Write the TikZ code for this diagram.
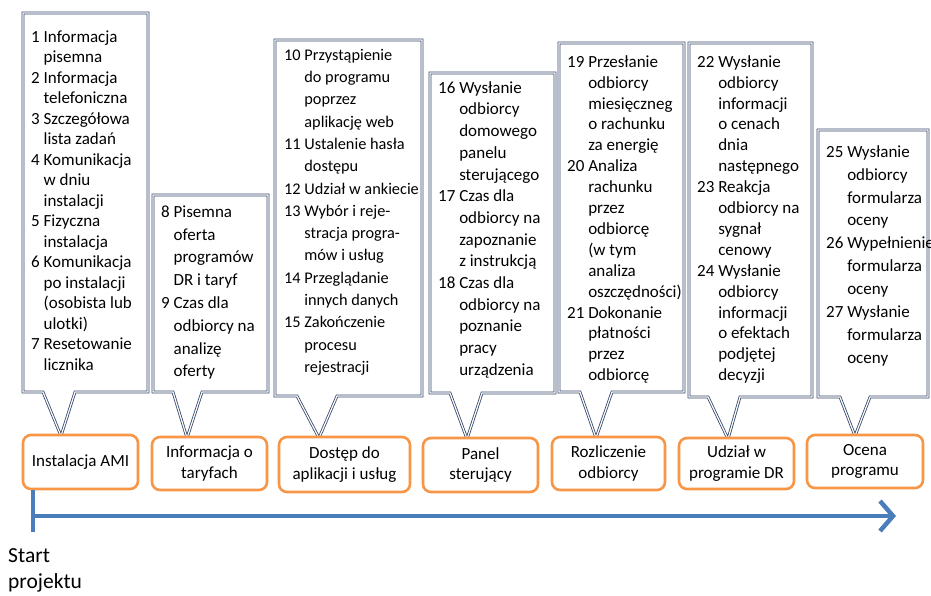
\documentclass[tikz,border=0pt]{standalone}
\usepackage{fontspec}
\setmainfont{Carlito}
\usetikzlibrary{arrows.meta}

\definecolor{boxorange}{HTML}{F79646}
\definecolor{axisblue}{HTML}{4A7EBB}
\definecolor{callline}{HTML}{34476A}

% hanging indent as wide as the item number
\newcommand\indnum[1]{\hphantom{#1\ }}
% callout: left, top, right, bottom, pointer base left, pointer base right, apex x, apex y
\newcommand\calloutbox[8]{%
  \draw[callshape] (#1,#2) -- (#3,#2) -- (#3,#4) -- (#6,#4) -- (#7,#8)
    -- (#5,#4) -- (#1,#4) -- cycle;}

\tikzset{
  phase/.style={draw=boxorange, line width=2.6pt, rounded corners=8pt,
    fill=white, align=center, inner sep=1pt,
    font=\fontsize{17}{20.5}\selectfont},
  callshape/.style={draw=callline, line width=0.8pt, double=white,
    double distance=1.2pt, fill=white, line join=miter},
  calltext/.style={anchor=north west, align=left, inner sep=0pt},
  axis/.style={draw=axisblue, line width=4.5pt},
}

\begin{document}
\begin{tikzpicture}[x=1pt,y=-1pt]
\useasboundingbox (0,0) rectangle (931,595);

% callouts with their item lists
\calloutbox{23}{13}{148}{392}{43}{75}{61}{436}
\calloutbox{153}{195}{268}{392}{173}{202}{187}{438}
\calloutbox{275}{40}{422}{396}{297}{337}{319}{438}
\calloutbox{430}{73}{555}{393}{450}{482}{467}{439}
\calloutbox{559}{43}{684}{392}{580}{612}{596}{438}
\calloutbox{689}{43}{812}{397}{708}{740}{728}{439}
\calloutbox{818}{130}{928}{397}{840}{870}{855}{436}

\node[calltext, font=\fontsize{17}{20.5}\selectfont] (c1) at (31,28)
 {\rule{0pt}{14pt}1 Informacja\\ \indnum{1}pisemna\\ 2 Informacja\\
  \indnum{2}telefoniczna\\ 3 Szczegółowa\\ \indnum{3}lista zadań\\
  4 Komunikacja\\ \indnum{4}w dniu\\ \indnum{4}instalacji\\ 5 Fizyczna\\
  \indnum{5}instalacja\\ 6 Komunikacja\\ \indnum{6}po instalacji\\
  \indnum{6}(osobista lub\\ \indnum{6}ulotki)\\ 7 Resetowanie\\
  \indnum{7}licznika};

\node[calltext, font=\fontsize{17}{22.8}\selectfont] (c2) at (161,203)
 {\rule{0pt}{14pt}8 Pisemna\\ \indnum{8}oferta\\ \indnum{8}programów\\
  \indnum{8}DR i taryf\\ 9 Czas dla\\ \indnum{9}odbiorcy na\\
  \indnum{9}analizę\\ \indnum{9}oferty};

\node[calltext, font=\fontsize{16.3}{22.3}\selectfont] (c3) at (284,46)
 {\rule{0pt}{14pt}10 Przystąpienie\\ \indnum{10}do programu\\ \indnum{10}poprzez\\
  \indnum{10}aplikację web\\ 11 Ustalenie hasła\\ \indnum{11}dostępu\\
  12 Udział w ankiecie\\ 13 Wybór i reje-\\ \indnum{13}stracja progra-\\
  \indnum{13}mów i usług\\ 14 Przeglądanie\\ \indnum{14}innych danych\\
  15 Zakończenie\\ \indnum{15}procesu\\ \indnum{15}rejestracji};

\node[calltext, font=\fontsize{17}{21.7}\selectfont] (c4) at (438,79)
 {\rule{0pt}{14pt}16 Wysłanie\\ \indnum{16}odbiorcy\\ \indnum{16}domowego\\
  \indnum{16}panelu\\ \indnum{16}sterującego\\ 17 Czas dla\\
  \indnum{17}odbiorcy na\\ \indnum{17}zapoznanie\\ \indnum{17}z instrukcją\\
  18 Czas dla\\ \indnum{18}odbiorcy na\\ \indnum{18}poznanie\\
  \indnum{18}pracy\\ \indnum{18}urządzenia};

\node[calltext, font=\fontsize{17}{20.9}\selectfont] (c5) at (567,53)
 {\rule{0pt}{14pt}19 Przesłanie\\ \indnum{19}odbiorcy\\ \indnum{19}miesięczneg\\
  \indnum{19}o rachunku\\ \indnum{19}za energię\\ 20 Analiza\\
  \indnum{20}rachunku\\ \indnum{20}przez\\ \indnum{20}odbiorcę\\
  \indnum{20}(w tym\\ \indnum{20}analiza\\ \indnum{20}oszczędności)\\
  21 Dokonanie\\ \indnum{21}płatności\\ \indnum{21}przez\\ \indnum{21}odbiorcę};

\node[calltext, font=\fontsize{17}{20.9}\selectfont] (c6) at (697,53)
 {\rule{0pt}{14pt}22 Wysłanie\\ \indnum{22}odbiorcy\\ \indnum{22}informacji\\
  \indnum{22}o cenach\\ \indnum{22}dnia\\ \indnum{22}następnego\\
  23 Reakcja\\ \indnum{23}odbiorcy na\\ \indnum{23}sygnał\\
  \indnum{23}cenowy\\ 24 Wysłanie\\ \indnum{24}odbiorcy\\
  \indnum{24}informacji\\ \indnum{24}o efektach\\ \indnum{24}podjętej\\
  \indnum{24}decyzji};

\node[calltext, font=\fontsize{17}{22.9}\selectfont] (c7) at (826,143)
 {\rule{0pt}{14pt}25 Wysłanie\\ \indnum{25}odbiorcy\\ \indnum{25}formularza\\
  \indnum{25}oceny\\ 26 Wypełnienie\\ \indnum{26}formularza\\
  \indnum{26}oceny\\ 27 Wysłanie\\ \indnum{27}formularza\\ \indnum{27}oceny};

% project phases
\node[phase, minimum width=115pt, minimum height=54pt] (b1) at (80.5,462) {Instalacja AMI};
\node[phase, minimum width=115pt, minimum height=53pt] (b2) at (209.5,463.5) {Informacja o\\taryfach};
\node[phase, minimum width=131pt, minimum height=55pt] (b3) at (344.5,464.5) {Dostęp do\\aplikacji i usług};
\node[phase, minimum width=115pt, minimum height=54pt] (b4) at (480.5,465) {Panel\\sterujący};
\node[phase, minimum width=113pt, minimum height=53pt] (b5) at (608.5,463.5) {Rozliczenie\\odbiorcy};
\node[phase, minimum width=115pt, minimum height=51pt] (b6) at (736.5,463.5) {Udział w\\programie DR};
\node[phase, minimum width=116pt, minimum height=53pt] (b7) at (865,461.5) {Ocena\\programu};

% time axis
\coordinate (s0) at (33,490);
\coordinate (s1) at (33,532);
\coordinate (a0) at (33,516);
\coordinate (a1) at (896,516);
\draw[axis] (s0) -- (s1);
\draw[axis, -{Straight Barb[length=13pt,width=30pt]}] (a0) -- (a1);

\node[anchor=north west, align=left, inner sep=0pt,
  font=\fontsize{21.5}{26}\selectfont] (start) at (8,546)
  {\rule{0pt}{16pt}Start\\projektu};
\end{tikzpicture}
\end{document}
